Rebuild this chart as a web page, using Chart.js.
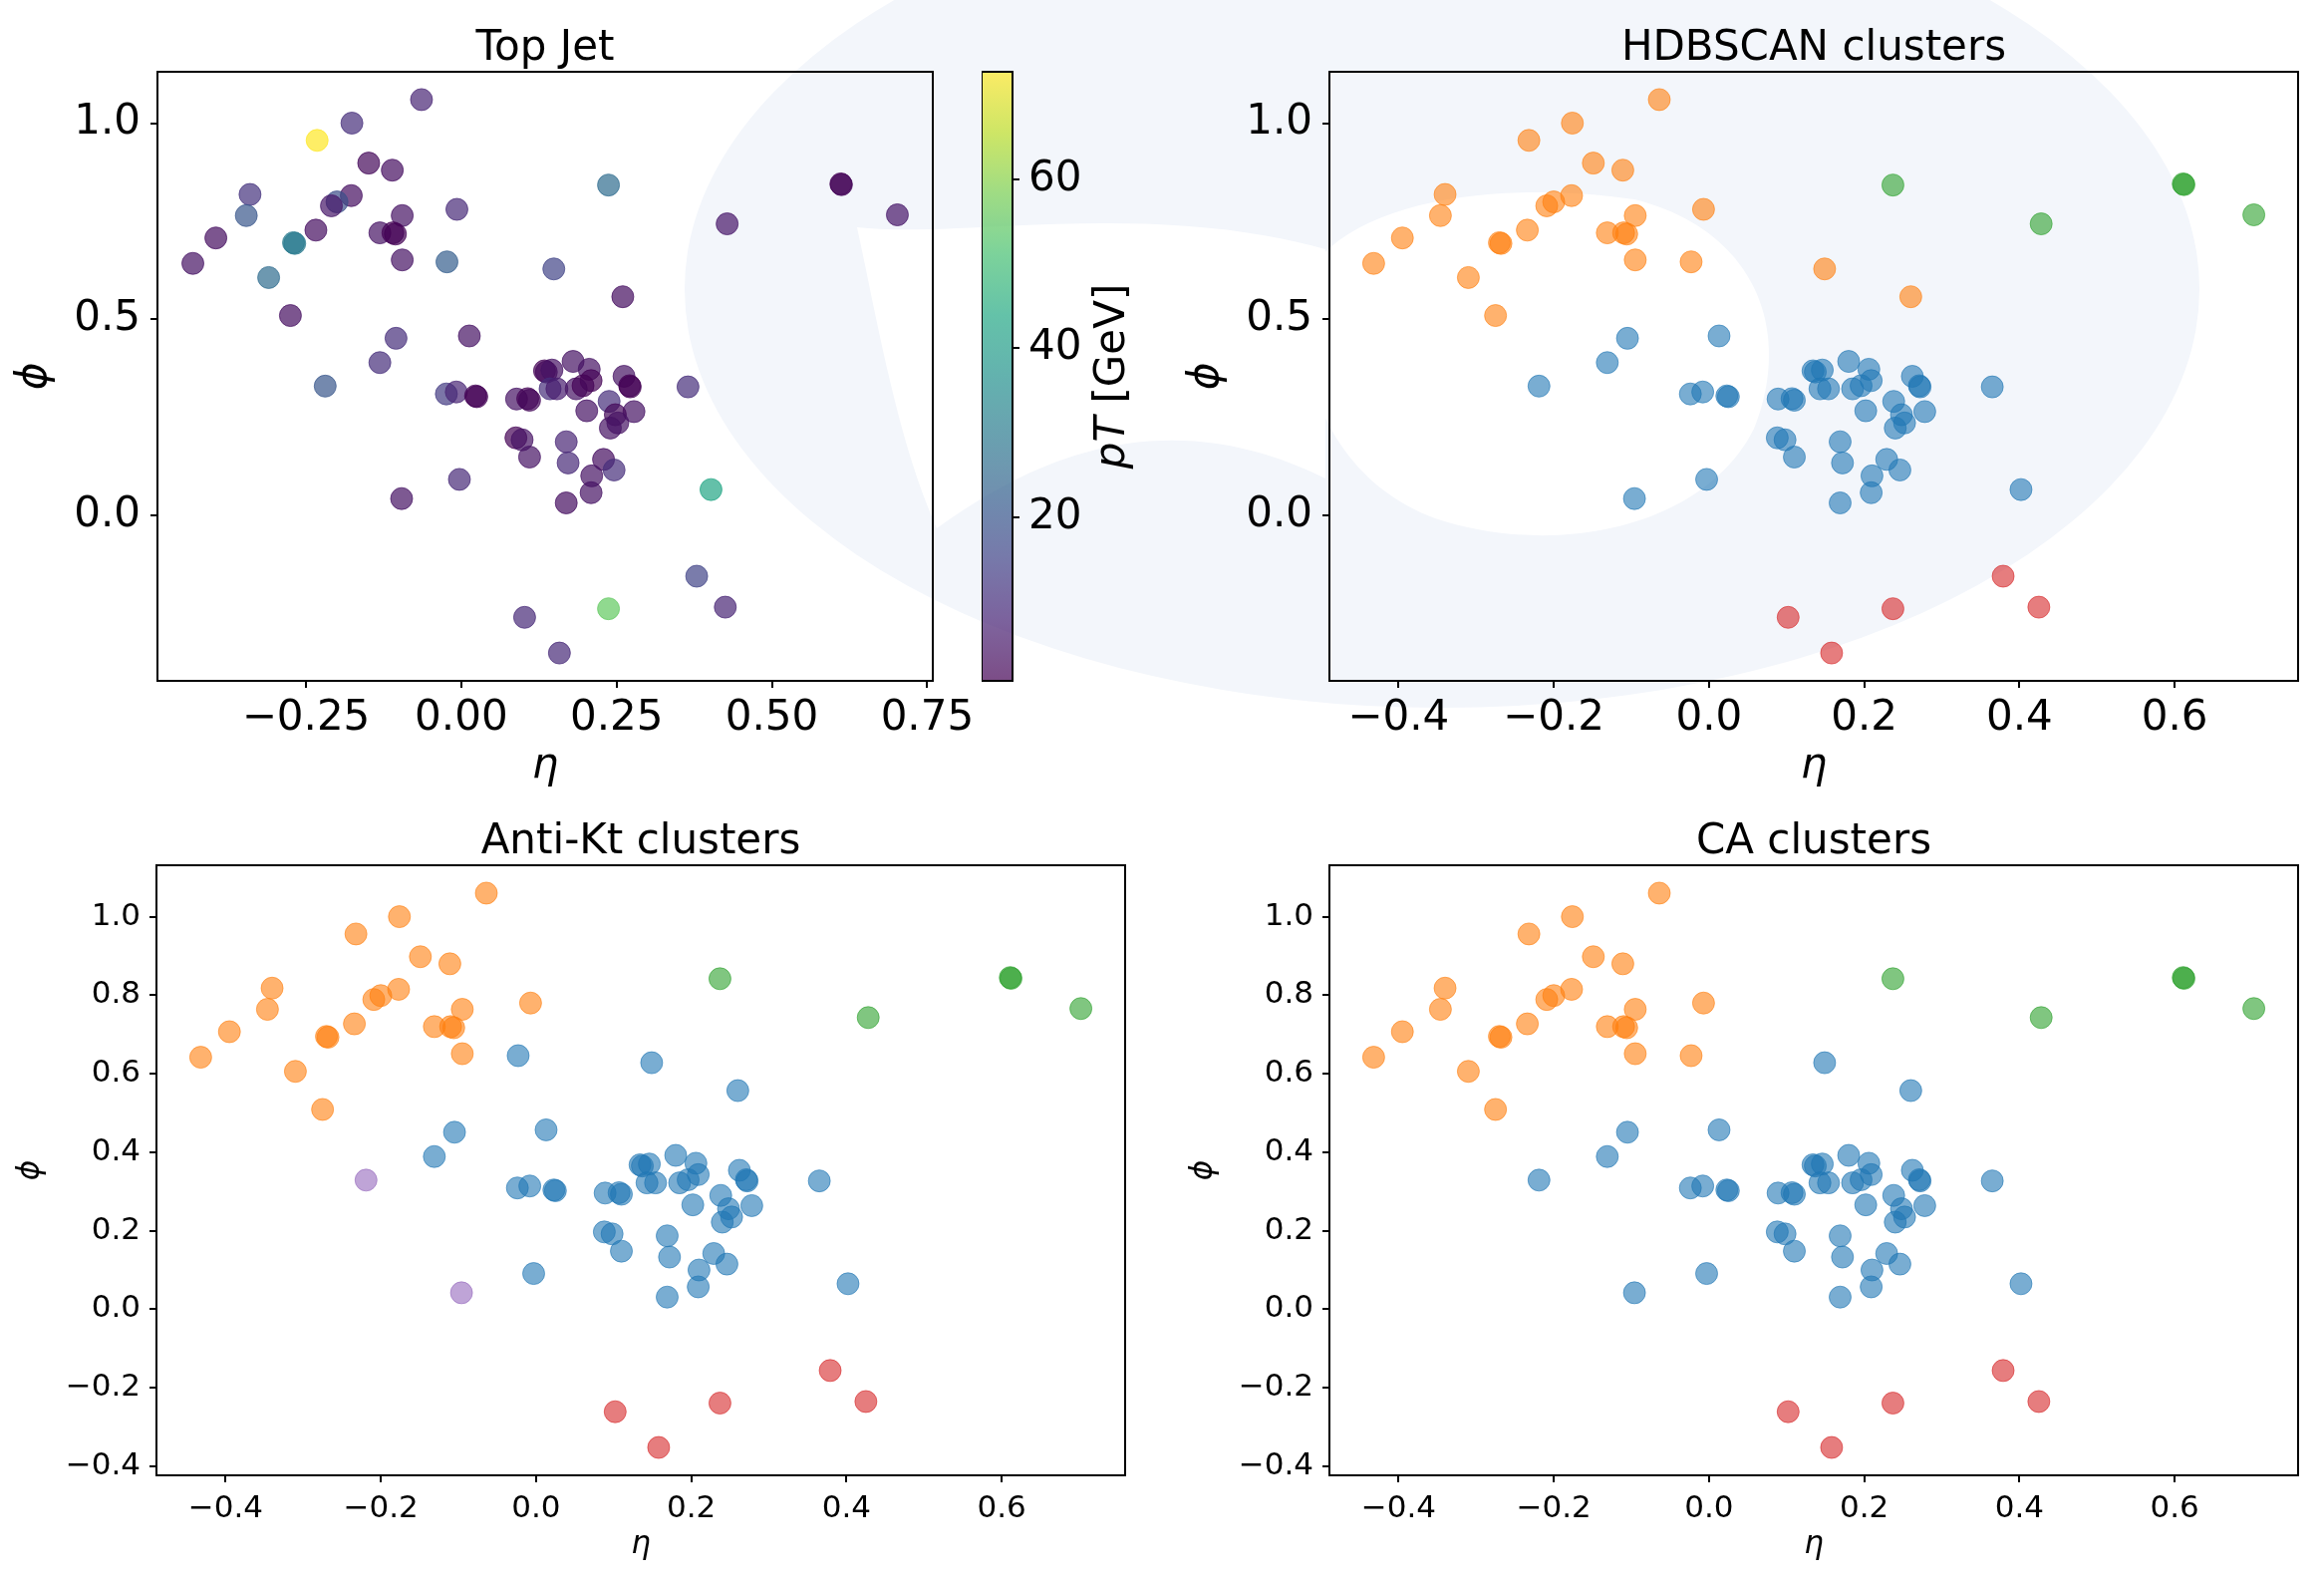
<!DOCTYPE html>
<html><head><meta charset="utf-8">
<script src="https://cdn.jsdelivr.net/npm/chart.js@4.4.1/dist/chart.umd.min.js"></script>
<style>
html,body{margin:0;padding:0;background:#fff;}
body{width:2332px;height:1585px;position:relative;overflow:hidden;}
canvas{position:absolute;}
#wm{position:absolute;left:0;top:0;}
</style></head><body>
<svg id="wm" width="2332" height="1585" viewBox="0 0 2332 1585">
  <ellipse cx="1447" cy="290" rx="760" ry="420" fill="rgb(243,246,251)"/>
  <path d="M 860 228 C 960 240, 1150 200, 1330 250 L 1330 480 C 1150 390, 1010 480, 940 530 C 900 440, 880 320, 860 228 Z" fill="#fff"/>
  <path d="M 1300 300 C 1330 200, 1500 180, 1640 200 C 1760 230, 1800 330, 1760 430 C 1710 530, 1560 560, 1440 520 C 1360 490, 1310 420, 1300 300 Z" fill="#fff"/>
</svg>
<canvas id="cTL" width="986" height="766" style="left:0px;top:28px"></canvas>
<canvas id="cCB" width="191" height="691" style="left:985px;top:32px"></canvas>
<canvas id="cTR" width="1142" height="766" style="left:1176px;top:28px"></canvas>
<canvas id="cBL" width="1141" height="745" style="left:0px;top:824px"></canvas>
<canvas id="cBR" width="1141" height="745" style="left:1177px;top:824px"></canvas>
<script>
// ---------------- data ----------------
const eta = [-0.064,-0.176,-0.232,-0.149,-0.111,-0.340,-0.177,-0.200,-0.209,-0.346,-0.095,-0.007,-0.395,-0.234,-0.131,-0.110,-0.106,-0.270,-0.268,-0.432,-0.095,-0.310,-0.275,
 -0.023,0.149,0.260,
 0.237,0.611,0.612,0.428,0.702,
 0.379,0.102,0.237,0.425,0.158,
 -0.105,0.013,-0.131,-0.219,-0.024,-0.008,0.023,0.025,0.089,0.107,0.110,0.134,0.137,0.146,0.180,0.206,0.209,0.143,0.154,0.185,0.196,0.262,0.271,0.272,0.365,0.238,0.202,0.278,0.248,0.252,0.240,0.088,0.098,0.169,0.110,0.172,0.229,0.246,0.210,-0.003,0.209,0.169,0.402,-0.096];
const phi = [1.060,1.000,0.956,0.898,0.880,0.818,0.815,0.799,0.789,0.764,0.764,0.780,0.707,0.727,0.720,0.720,0.717,0.695,0.693,0.642,0.651,0.606,0.509,
 0.646,0.628,0.557,
 0.842,0.845,0.843,0.743,0.766,
 -0.156,-0.261,-0.239,-0.235,-0.352,
 0.451,0.457,0.389,0.329,0.309,0.314,0.304,0.302,0.296,0.297,0.293,0.368,0.365,0.370,0.392,0.372,0.343,0.322,0.322,0.322,0.330,0.354,0.330,0.327,0.327,0.290,0.266,0.264,0.256,0.235,0.222,0.197,0.192,0.187,0.148,0.133,0.142,0.115,0.100,0.091,0.057,0.031,0.065,0.042];
const pT = [8,10,72.7,2,3,11,3,18,5,20,4,9,3,3,4,1,1,30,30,4,4,26,3,
 22,15,3,
 26,0.6,1.5,5,5,
 15,9,55,8,9,
 10,4,10,20,13,8,1,1,4,1,2,1,2,4,4,4,1,10,6,4,1,4,1,1,10,10,4,4,2,4,4,1,4,8,4,9,3,10,4,9,4,3,43,4];
// cluster labels: 0 blue, 1 orange, 2 green, 3 red, 4 purple
const hdbscanLabels = [1,1,1,1,1,1,1,1,1,1,1,1,1,1,1,1,1,1,1,1,1,1,1,
 1,1,1,
 2,2,2,2,2,
 3,3,3,3,3,
 0,0,0,0,0,0,0,0,0,0,0,0,0,0,0,0,0,0,0,0,0,0,0,0,0,0,0,0,0,0,0,0,0,0,0,0,0,0,0,0,0,0,0,0];
const antiKtLabels = [1,1,1,1,1,1,1,1,1,1,1,1,1,1,1,1,1,1,1,1,1,1,1,
 0,0,0,
 2,2,2,2,2,
 3,3,3,3,3,
 0,0,0,4,0,0,0,0,0,0,0,0,0,0,0,0,0,0,0,0,0,0,0,0,0,0,0,0,0,0,0,0,0,0,0,0,0,0,0,0,0,0,0,4];
const caLabels = [1,1,1,1,1,1,1,1,1,1,1,1,1,1,1,1,1,1,1,1,1,1,1,
 1,0,0,
 2,2,2,2,2,
 3,3,3,3,3,
 0,0,0,0,0,0,0,0,0,0,0,0,0,0,0,0,0,0,0,0,0,0,0,0,0,0,0,0,0,0,0,0,0,0,0,0,0,0,0,0,0,0,0,0];
const etaRange = [-0.489, 0.759];
const phiRange = [-0.423, 1.131];
const pTRange = [0.6, 72.7];
const xTicksTop = [-0.25, 0, 0.25, 0.5, 0.75];
const xTicksBottom = [-0.4, -0.2, 0, 0.2, 0.4, 0.6];
const yTicksTop = [0, 0.5, 1.0];
const yTicksBottom = [-0.4, -0.2, 0, 0.2, 0.4, 0.6, 0.8, 1.0];
const cbarTicks = [20, 40, 60];
const titles = ['Top Jet', 'HDBSCAN clusters', 'Anti-Kt clusters', 'CA clusters'];

// ---------------- styles ----------------
const FONT = 'DejaVu Sans';
const tab10 = [[31,119,180],[255,127,14],[44,160,44],[214,39,40],[148,103,189]];
const viridisStops = [[68,1,84],[72,36,117],[65,68,135],[53,95,141],[42,120,142],[33,145,140],[34,168,132],[68,191,112],[122,209,81],[189,223,38],[253,231,37]];
function viridis(t, a){
  t = Math.max(0, Math.min(1, t));
  const f = t*10, i = Math.min(9, Math.floor(f)), r = f - i;
  const c0 = viridisStops[i], c1 = viridisStops[i+1];
  const c = c0.map((v,k)=>Math.round(v + (c1[k]-v)*r));
  return `rgba(${c[0]},${c[1]},${c[2]},${a})`;
}
function fmt(v, d){ return (v < -1e-9 ? '\u2212' : '') + Math.abs(v).toFixed(d); }

const framePlugin = { id:'frame', afterDraw(chart){
  const {ctx, chartArea:a} = chart; ctx.save(); ctx.strokeStyle='#000'; ctx.lineWidth=2;
  ctx.strokeRect(a.left, a.top, a.right-a.left, a.bottom-a.top); ctx.restore(); } };

function axis(o){
  return {
    type:'linear', min:o.min, max:o.max, bounds:'data', position:o.position,
    afterBuildTicks: s => { s.ticks = o.ticks.map(v=>({value:v})); },
    afterFit: s => { if (o.isX) s.height = o.size; else s.width = o.size; },
    grid:{display:true, drawOnChartArea:false, drawTicks:true, tickLength:7, tickWidth:2, tickColor:'#000', color:'#000', lineWidth:2},
    border:{display:false},
    ticks:{font:{family:FONT, size:o.fontSize}, color:'#000', padding:o.pad, maxRotation:0, minRotation:0, autoSkip:false,
      callback: v => fmt(v, o.dec)},
    title:{display: !!o.title, text:o.title || '', color:'#000', font:{family:FONT, size:o.titleSize, style:'italic'},
      padding: o.isX ? {top:0, bottom:o.titlePad} : {top:o.titlePad, bottom:0}}
  };
}

function scatterChart(id, title, colors, top){
  const pts = eta.map((e,i)=>({x:e, y:phi[i]}));
  const fs = top ? 42 : 31;
  new Chart(document.getElementById(id), {
    type:'scatter',
    data:{datasets:[{data:pts, backgroundColor:colors, borderColor:colors, borderWidth:1, pointRadius:11, pointHoverRadius:11}]},
    options:{
      responsive:false, animation:false, devicePixelRatio:1,
      layout:{padding:{left:0, top:0, bottom:0, right: id==='cTL' ? 50 : 10}},
      scales:{
        x: axis({isX:true, min:etaRange[0], max:etaRange[1], ticks: id==='cTL' ? xTicksTop : xTicksBottom, dec: id==='cTL' ? 2 : 1,
          fontSize:fs, pad: top ? 6 : 8, title:'\u03B7', titleSize:fs, titlePad:0, size: top ? 111 : 89}),
        y: axis({isX:false, min:phiRange[0], max:phiRange[1], ticks: top ? yTicksTop : yTicksBottom, dec:1,
          fontSize:fs, pad: top ? 10 : 9, title:'\u03D5', titleSize:fs, titlePad: top ? 10 : 12, size: top ? 158 : 157})
      },
      plugins:{legend:{display:false}, tooltip:{enabled:false},
        title:{display:true, text:title, fullSize:false, color:'#000', font:{family:FONT, size:42, weight:'normal', lineHeight:1.0}, padding:{top:0, bottom:2}}}
    },
    plugins:[framePlugin]
  });
}

const tlColors = pT.map(v => viridis((v - pTRange[0])/(pTRange[1]-pTRange[0]), 0.7));
const clusterColors = labs => labs.map(l => `rgba(${tab10[l][0]},${tab10[l][1]},${tab10[l][2]},0.6)`);

scatterChart('cTL', titles[0], tlColors, true);
scatterChart('cTR', titles[1], clusterColors(hdbscanLabels), true);
scatterChart('cBL', titles[2], clusterColors(antiKtLabels), false);
scatterChart('cBR', titles[3], clusterColors(caLabels), false);

// ---------------- colorbar ----------------
const cbarLabelPlugin = { id:'cbarLabel', afterDraw(chart){
  const {ctx, chartArea:a} = chart;
  ctx.save();
  ctx.translate(a.right + 112, (a.top + a.bottom)/2);
  ctx.rotate(-Math.PI/2);
  ctx.fillStyle = '#000'; ctx.textBaseline = 'alphabetic'; ctx.textAlign = 'left';
  const f1 = `italic 42px "${FONT}"`, f2 = `42px "${FONT}"`;
  ctx.font = f1; const w1 = ctx.measureText('pT').width;
  ctx.font = f2; const w2 = ctx.measureText(' [GeV]').width;
  let x = -(w1 + w2)/2;
  ctx.font = f1; ctx.fillText('pT', x, 0);
  ctx.font = f2; ctx.fillText(' [GeV]', x + w1, 0);
  ctx.restore();
}};

new Chart(document.getElementById('cCB'), {
  type:'bar',
  data:{labels:[''], datasets:[{data:[pTRange], borderWidth:0, barPercentage:1, categoryPercentage:1,
    backgroundColor: c => {
      const ch = c.chart; if (!ch.chartArea) return 'rgba(0,0,0,0)';
      const y = ch.scales.y;
      const g = ch.ctx.createLinearGradient(0, y.getPixelForValue(pTRange[0]), 0, y.getPixelForValue(pTRange[1]));
      for (let i = 0; i <= 40; i++) g.addColorStop(i/40, viridis(i/40, 0.7));
      return g;
    }}]},
  options:{
    responsive:false, animation:false, devicePixelRatio:1,
    layout:{padding:{left:0, right:0, top:40, bottom:40}},
    scales:{
      x:{display:false},
      y: axis({isX:false, position:'right', min:pTRange[0], max:pTRange[1], ticks:cbarTicks, dec:0, fontSize:42, pad:9, title:'', titleSize:42, titlePad:0, size:160})
    },
    plugins:{legend:{display:false}, tooltip:{enabled:false}}
  },
  plugins:[framePlugin, cbarLabelPlugin]
});
</script>
</body></html>
